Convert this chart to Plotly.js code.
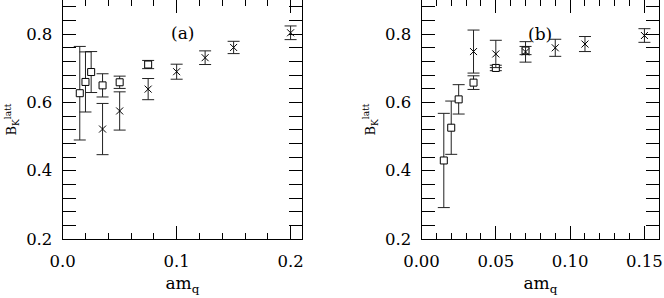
<!DOCTYPE html>
<html>
<head>
<meta charset="utf-8">
<script src="https://cdn.plot.ly/plotly-3.0.1.min.js"></script>
<style>html,body{margin:0;padding:0;background:#fff;}#chart{width:664px;height:298px;}</style>
</head>
<body>
<div id="chart"></div>
<script>
// Panel (a)
const aSqX = [0.015, 0.02, 0.025, 0.035, 0.05, 0.075];
const aSqY = [0.627, 0.660, 0.689, 0.650, 0.659, 0.711];
const aSqErr = [0.137, 0.088, 0.060, 0.034, 0.018, 0.012];
const aCrX = [0.035, 0.05, 0.075, 0.1, 0.125, 0.15, 0.2];
const aCrY = [0.522, 0.575, 0.639, 0.690, 0.731, 0.761, 0.804];
const aCrErr = [0.075, 0.056, 0.031, 0.022, 0.020, 0.018, 0.020];
// Panel (b)
const bSqX = [0.015, 0.02, 0.025, 0.035, 0.05, 0.07];
const bSqY = [0.430, 0.526, 0.609, 0.658, 0.701, 0.752];
const bSqErr = [0.138, 0.078, 0.043, 0.020, 0.008, 0.012];
const bCrX = [0.035, 0.05, 0.07, 0.09, 0.11, 0.15];
const bCrY = [0.749, 0.742, 0.748, 0.760, 0.771, 0.796];
const bCrErr = [0.063, 0.040, 0.030, 0.025, 0.022, 0.020];
// Axis tick labels / ranges
const xTicksA = [0, 0.1, 0.2];
const xTicksB = [0, 0.05, 0.10, 0.15];
const yTicks = [0.2, 0.4, 0.6, 0.8];
const panelLabels = ['(a)', '(b)'];

const FONT = 'DejaVu Serif, Liberation Serif, serif';
const INK = '#000';

function sq(x, y, e, xa, ya) {
  return {x: x, y: y, xaxis: xa, yaxis: ya, type: 'scatter', mode: 'markers',
    marker: {symbol: 'square', size: 7, color: '#fff', line: {color: INK, width: 1}},
    error_y: {type: 'data', array: e, visible: true, color: '#222', thickness: 1, width: 6},
    hoverinfo: 'skip'};
}
function cr(x, y, e, xa, ya) {
  return {x: x, y: y, xaxis: xa, yaxis: ya, type: 'scatter', mode: 'markers',
    marker: {symbol: 'x-thin-open', size: 7, color: INK, line: {color: INK, width: 1}},
    error_y: {type: 'data', array: e, visible: true, color: '#222', thickness: 1, width: 6},
    hoverinfo: 'skip'};
}

const data = [
  sq(aSqX, aSqY, aSqErr, 'x', 'y'),
  cr(aCrX, aCrY, aCrErr, 'x', 'y'),
  sq(bSqX, bSqY, bSqErr, 'x2', 'y2'),
  cr(bCrX, bCrY, bCrErr, 'x2', 'y2'),
  {x: [], y: [], xaxis: 'x3', yaxis: 'y', type: 'scatter', mode: 'markers', hoverinfo: 'skip'},
  {x: [], y: [], xaxis: 'x4', yaxis: 'y2', type: 'scatter', mode: 'markers', hoverinfo: 'skip'}
];

const tickFont = {family: FONT, size: 16.5, color: INK};
function xax(domain, range, ticks, fmt, minorDt, anchor) {
  return {domain: domain, range: range, anchor: anchor, tickvals: ticks, tickformat: fmt,
    ticks: 'inside', ticklen: 13, tickwidth: 1, tickcolor: INK,
    showline: true, linecolor: INK, linewidth: 1, mirror: false,
    showgrid: false, zeroline: false, tickfont: tickFont, ticklabelstandoff: 7,
    minor: {dtick: minorDt, tick0: 0, ticks: 'inside', ticklen: 6, tickwidth: 1, tickcolor: INK, showgrid: false},
    title: {text: 'am<sub>q</sub>', font: {family: FONT, size: 17, color: INK}, standoff: 7}};
}
function topax(over, range, ticks, minorDt, anchor) {
  return {overlaying: over, side: 'top', anchor: anchor, range: range, tickvals: ticks,
    ticks: 'inside', ticklen: 13, tickwidth: 1, tickcolor: INK, showticklabels: false,
    showline: false, showgrid: false, zeroline: false,
    minor: {dtick: minorDt, tick0: 0, ticks: 'inside', ticklen: 6, tickwidth: 1, tickcolor: INK, showgrid: false}};
}
function yax(anchor) {
  return {domain: [0, 1], range: [0.2, 0.9], anchor: anchor, tickvals: yTicks, tickformat: '.1f',
    ticks: 'inside', ticklen: 13, tickwidth: 1, tickcolor: INK,
    showline: true, linecolor: INK, linewidth: 1, mirror: 'allticks',
    showgrid: false, zeroline: false, tickfont: tickFont, ticklabelstandoff: 6,
    minor: {dtick: 0.04, tick0: 0.2, ticks: 'inside', ticklen: 6, tickwidth: 1, tickcolor: INK, showgrid: false},
    title: {text: 'B<sub>K</sub><sup>latt</sup>', font: {family: FONT, size: 13, color: INK}, standoff: 6}};
}

const layout = {
  width: 664, height: 298,
  margin: {l: 0, r: 0, t: 0, b: 59, pad: 0},
  paper_bgcolor: '#fff', plot_bgcolor: '#fff',
  showlegend: false,
  xaxis: xax([0.0944, 0.4548], [0, 0.21], xTicksA, '.1f', 0.02, 'y'),
  yaxis: yax('x'),
  xaxis2: xax([0.6348, 0.9929], [0, 0.16], xTicksB, '.2f', 0.01, 'y2'),
  yaxis2: yax('x2'),
  xaxis3: topax('x', [0, 0.21], xTicksA, 0.02, 'y'),
  xaxis4: topax('x2', [0, 0.16], xTicksB, 0.01, 'y2'),
  annotations: [
    {text: panelLabels[0], x: 0.105, y: 0.803, xref: 'x', yref: 'y', showarrow: false,
     font: {family: FONT, size: 17, color: INK}},
    {text: panelLabels[1], x: 0.08, y: 0.8, xref: 'x2', yref: 'y2', showarrow: false,
     font: {family: FONT, size: 17, color: INK}}
  ]
};

Plotly.newPlot('chart', data, layout, {staticPlot: true, displayModeBar: false});
</script>
</body>
</html>
